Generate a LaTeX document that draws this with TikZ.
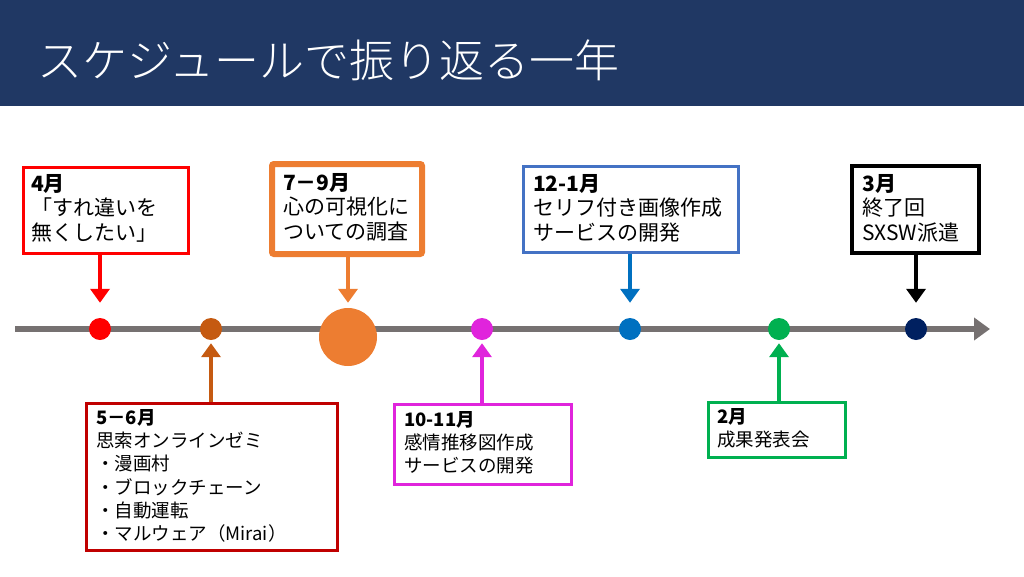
\documentclass[tikz,border=0pt]{standalone}
\usepackage{fontspec}
\setmainfont{Noto Sans CJK JP}
\newfontfamily\titlefont{Noto Sans CJK JP Light}
\usetikzlibrary{arrows.meta,calc}
\definecolor{titlebg}{HTML}{203864}
\definecolor{cRed}{HTML}{FF0000}
\definecolor{cOrange}{HTML}{ED7D31}
\definecolor{cBlueBox}{HTML}{4472C4}
\definecolor{cBlue}{HTML}{0070C0}
\definecolor{cDarkRed}{HTML}{C00000}
\definecolor{cBrown}{HTML}{C55A11}
\definecolor{cMagenta}{HTML}{E024DC}
\definecolor{cGreen}{HTML}{00B050}
\definecolor{cNavy}{HTML}{002060}
\definecolor{cGray}{HTML}{767171}
\tikzset{
  evbox/.style={draw=#1, fill=white, rectangle, inner sep=0pt, line width=3pt},
  dot/.style={circle, fill=#1, draw=none, minimum size=22pt, inner sep=0pt},
  toptxt/.style={anchor=north west, inner sep=0pt, align=left, font=\fontsize{21}{24.5}\selectfont},
  bottxt/.style={anchor=north west, inner sep=0pt, align=left, font=\fontsize{18.5}{23.3}\selectfont},
  evarrow/.style={draw=#1, line width=4.5pt, -{Triangle[width=19pt,length=14pt]}},
}
\begin{document}
\begin{tikzpicture}[x=1pt,y=-1pt]
\useasboundingbox (0,0) rectangle (1024,576);
% title bar
\node[fill=titlebg, minimum width=1024pt, minimum height=106pt, inner sep=0pt, anchor=north west] (bar) at (0,0) {};
\node[anchor=west, inner sep=0pt, text=white, font=\titlefont\fontsize{45}{50}\selectfont] (title) at (37,60) {スケジュールで振り返る一年};
% timeline
\coordinate (ts) at (15,329);
\coordinate (te) at (990,329);
\draw[cGray, line width=6pt, -{Triangle[width=22pt,length=16pt]}] (ts) -- (te);
% dots
\node[dot=cRed] (d1) at (100,329) {};
\node[dot=cBrown] (d2) at (211,329) {};
\node[circle, fill=cOrange, minimum size=58pt, inner sep=0pt] (d3) at (348,337) {};
\node[dot=cMagenta] (d4) at (482,329) {};
\node[dot=cBlue] (d5) at (630,329) {};
\node[dot=cGreen] (d6) at (779,329) {};
\node[dot=cNavy] (d7) at (916,329) {};
% top boxes
\node[evbox=cRed, minimum width=165pt, minimum height=86pt] (b1) at (105.5,210) {};
\node[toptxt] (t1) at (31,174) {\textbf{4月}\\「すれ違いを\\無くしたい」};
\node[evbox=cOrange, line width=6pt, rounded corners=2pt, minimum width=150pt, minimum height=90pt] (b3) at (347,209) {};
\node[toptxt] (t3) at (283,173) {\textbf{7－9月}\\心の可視化に\\ついての調査};
\node[evbox=cBlueBox, minimum width=215pt, minimum height=86pt] (b5) at (630.5,209) {};
\node[toptxt] (t5) at (533,174) {\textbf{12-1月}\\セリフ付き画像作成\\サービスの開発};
\node[evbox=black, line width=4pt, minimum width=127pt, minimum height=87pt] (b7) at (915.5,209.5) {};
\node[toptxt] (t7) at (862,174) {\textbf{3月}\\終了回\\SXSW派遣};
% bottom boxes
\node[evbox=cDarkRed, minimum width=251pt, minimum height=147pt] (b2) at (211.5,476.5) {};
\node[bottxt] (t2) at (96,409) {\textbf{5－6月}\\思索オンラインゼミ\\・漫画村\\・ブロックチェーン\\・自動運転\\・マルウェア（Mirai）};
\node[evbox=cMagenta, minimum width=177pt, minimum height=80pt] (b4) at (482.5,444) {};
\node[bottxt] (t4) at (404,411) {\textbf{10-11月}\\感情推移図作成\\サービスの開発};
\node[evbox=cGreen, minimum width=137pt, minimum height=55pt] (b6) at (776.5,429.5) {};
\node[bottxt] (t6) at (717,408) {\textbf{2月}\\成果発表会};
% arrows
\draw[evarrow=cRed, shorten >=15pt] (b1.south -| d1) -- (d1.north);
\draw[evarrow=cOrange, shorten >=5pt] (b3.south -| d3) -- (d3.north);
\draw[evarrow=cBlue, shorten >=15pt] (b5.south -| d5) -- (d5.north);
\draw[evarrow=black, shorten >=15pt] (b7.south -| d7) -- (d7.north);
\draw[evarrow=cBrown, shorten >=3pt] (b2.north -| d2) -- (d2.south);
\draw[evarrow=cMagenta, shorten >=3pt] (b4.north -| d4) -- (d4.south);
\draw[evarrow=cGreen, shorten >=3pt] (b6.north -| d6) -- (d6.south);
\end{tikzpicture}
\end{document}
